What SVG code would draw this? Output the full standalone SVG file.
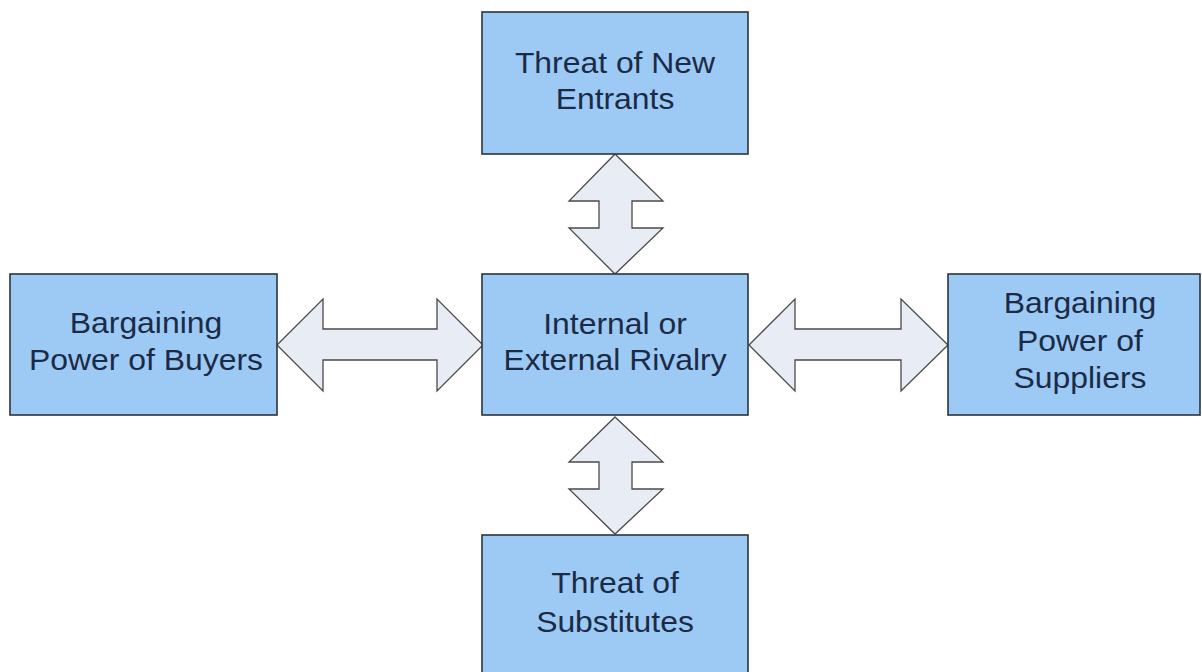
<svg xmlns="http://www.w3.org/2000/svg" width="1202" height="672" viewBox="0 0 1202 672">
<style>
.box{fill:#9ccaf5;stroke:#2b3440;stroke-width:1.6}
.arr{fill:#e8ecf5;stroke:#4a4a4a;stroke-width:1.3;stroke-linejoin:miter}
text{font-family:"Liberation Sans",Arial,sans-serif;font-size:29px;fill:#1c2b45;text-anchor:middle}
</style>
<rect width="1202" height="672" fill="#ffffff"/>
<g id="connectors">
<path class="arr" d="M615,154 L663,201 L632,201 L632,228 L663,228 L615,274 L569,228 L599,228 L599,201 L569,201 Z"/>
<path class="arr" d="M615,417 L663,462 L632,462 L632,489 L663,489 L615,534 L569,489 L599,489 L599,462 L569,462 Z"/>
<path class="arr" d="M277,345 L323,299 L323,329 L437,329 L437,299 L483,345 L437,391 L437,360 L323,360 L323,391 Z"/>
<path class="arr" d="M749,345 L795,299 L795,329 L901,329 L901,299 L948,345 L901,391 L901,360 L795,360 L795,391 Z"/>
</g>
<g id="new-entrants">
<rect class="box" x="482" y="12" width="266" height="142"/>
<text transform="translate(615,73) scale(1.1,1)">Threat of New</text>
<text transform="translate(615,109) scale(1.1,1)">Entrants</text>
</g>
<g id="rivalry">
<rect class="box" x="482" y="274" width="266" height="141"/>
<text transform="translate(615,334) scale(1.1,1)">Internal or</text>
<text transform="translate(615,370) scale(1.1,1)">External Rivalry</text>
</g>
<g id="buyers">
<rect class="box" x="10" y="274" width="267" height="141"/>
<text transform="translate(146,333) scale(1.1,1)">Bargaining</text>
<text transform="translate(146,370) scale(1.1,1)">Power of Buyers</text>
</g>
<g id="suppliers">
<rect class="box" x="948" y="274" width="252" height="141"/>
<text transform="translate(1080,313) scale(1.1,1)">Bargaining</text>
<text transform="translate(1080,351) scale(1.1,1)">Power of</text>
<text transform="translate(1080,388) scale(1.1,1)">Suppliers</text>
</g>
<g id="substitutes">
<rect class="box" x="482" y="535" width="266" height="145"/>
<text transform="translate(615,593) scale(1.1,1)">Threat of</text>
<text transform="translate(615,632) scale(1.1,1)">Substitutes</text>
</g>
</svg>
